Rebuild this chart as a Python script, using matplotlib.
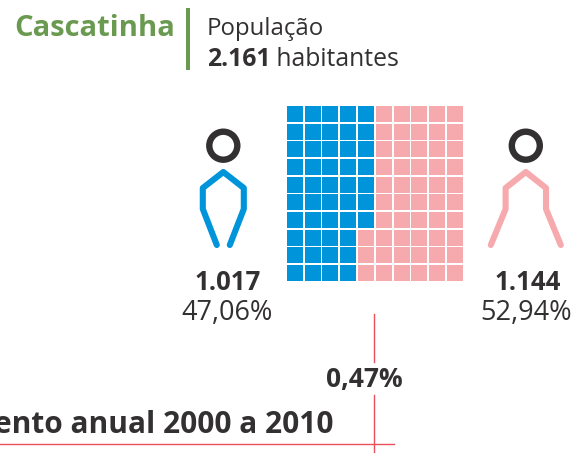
import numpy as np
import matplotlib
matplotlib.use("Agg")
import matplotlib.pyplot as plt
from matplotlib.patches import Rectangle, Circle

city = "Cascatinha"
pop_label = "População"
pop_total = "2.161"
pop_unit = " habitantes"
men_count = "1.017"
women_count = "1.144"
men_pct = "47,06%"
women_pct = "52,94%"
growth = "0,47%"
growth_label = "ento anual 2000 a 2010"
# squares out of 100 for each sex
men_cells = 47
n_rows = 10
n_cols = 10

BLUE = "#0095da"
PINK = "#f7aaae"
DARK = "#333031"
GREEN = "#6a9a50"
RED = "#e9505c"

plt.rcParams["font.family"] = ["Open Sans", "DejaVu Sans"]

fig = plt.figure(figsize=(5.75, 4.53), dpi=100)
ax = fig.add_axes([0, 0, 1, 1])
ax.set_xlim(0, 575)
ax.set_ylim(453, 0)
ax.axis("off")

# title block
ax.text(14, 36, city, fontsize=21, fontweight="bold", color=GREEN, ha="left", va="baseline")
ax.add_patch(Rectangle((186, 8), 4.3, 62, color=GREEN, lw=0))
ax.text(207, 35, pop_label, fontsize=17.3, color=DARK, ha="left", va="baseline")
t = ax.text(207, 66, pop_total, fontsize=17.8, fontweight="bold", color=DARK, ha="left", va="baseline")
fig.canvas.draw()
bb = t.get_window_extent()
ax.text(bb.x1, 66, pop_unit, fontsize=17.8, color=DARK, ha="left", va="baseline")

# waffle, filled column by column from the top left
col_x = 287 + 17.75 * np.arange(n_cols)
row_y = 106 + 17.65 * np.arange(n_rows)
count = 0
for c in range(n_cols):
    for r in range(n_rows):
        color = BLUE if count < men_cells else PINK
        ax.add_patch(Rectangle((round(col_x[c]), round(row_y[r])), 16, 16, color=color, lw=0))
        count += 1

# pictograms
def person(cx, hip, foot, color):
    xs = [cx - foot, cx - hip, cx - hip, cx, cx + hip, cx + hip, cx + foot]
    ys = [245, 209, 188, 172, 188, 209, 245]
    ax.plot(xs, ys, color=color, lw=4.4, solid_capstyle="round", solid_joinstyle="round")
    ax.add_patch(Circle((cx, 145.7), 14, fill=False, ec=DARK, lw=4.6))

person(223.3, 20.5, 6.5, BLUE)
person(525.8, 20.2, 35, PINK)

# counts
ax.text(228, 290, men_count, fontsize=18.5, fontweight="bold", color=DARK, ha="center", va="baseline")
ax.text(227, 320.5, men_pct, fontsize=19.5, color=DARK, ha="center", va="baseline")
ax.text(528, 290, women_count, fontsize=18.5, fontweight="bold", color=DARK, ha="center", va="baseline")
ax.text(526.5, 320.5, women_pct, fontsize=19.5, color=DARK, ha="center", va="baseline")

# growth
ax.plot([373.5, 373.5], [313.5, 362], color=RED, lw=1)
ax.plot([373.5, 373.5], [395, 453], color=RED, lw=1)
ax.plot([0, 394], [444, 444], color=RED, lw=1)
ax.text(364, 386.5, growth, fontsize=19, fontweight="bold", color=DARK, ha="center", va="baseline")
ax.text(333, 432.7, growth_label, fontsize=21.5, fontweight="bold", color=DARK, ha="right", va="baseline")

fig.savefig("out.png", dpi=100)
